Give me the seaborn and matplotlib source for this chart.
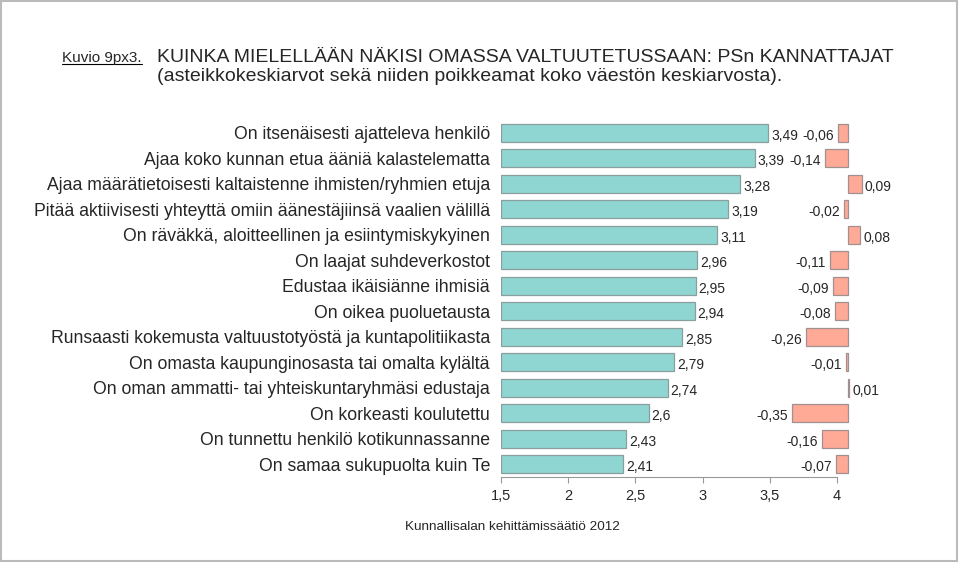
import pandas as pd
import matplotlib.pyplot as plt
import matplotlib.patches as mpatches
import seaborn as sns

sns.set_style('white')
plt.rcParams['font.family'] = ['Liberation Sans', 'DejaVu Sans']

# data
categories = [
    'On itsenäisesti ajatteleva henkilö',
    'Ajaa koko kunnan etua ääniä kalastelematta',
    'Ajaa määrätietoisesti kaltaistenne ihmisten/ryhmien etuja',
    'Pitää aktiivisesti yhteyttä omiin äänestäjiinsä vaalien välillä',
    'On räväkkä, aloitteellinen ja esiintymiskykyinen',
    'On laajat suhdeverkostot',
    'Edustaa ikäisiänne ihmisiä',
    'On oikea puoluetausta',
    'Runsaasti kokemusta valtuustotyöstä ja kuntapolitiikasta',
    'On omasta kaupunginosasta tai omalta kylältä',
    'On oman ammatti- tai yhteiskuntaryhmäsi edustaja',
    'On korkeasti koulutettu',
    'On tunnettu henkilö kotikunnassanne',
    'On samaa sukupuolta kuin Te',
]
means = [3.49, 3.39, 3.28, 3.19, 3.11, 2.96, 2.95, 2.94, 2.85, 2.79, 2.74, 2.6, 2.43, 2.41]
deviations = [-0.06, -0.14, 0.09, -0.02, 0.08, -0.11, -0.09, -0.08, -0.26, -0.01, 0.01, -0.35, -0.16, -0.07]
xticks = [1.5, 2, 2.5, 3, 3.5, 4]

df = pd.DataFrame({'cat': categories, 'mean': means, 'dev': deviations})

W, H = 960, 563
fig = plt.figure(figsize=(W / 100, H / 100), dpi=100)

# pääakseli
ax = fig.add_axes([501 / W, 1 - 477 / H, 336 / W, 357 / H])
sns.barplot(data=df, x='mean', y='cat', order=categories, color='#8FD6D2', saturation=1,
            width=0.72, edgecolor='#8a9e9e', linewidth=0.9, ax=ax)
ax.set_xlim(1.5, 4)
x0 = ax.get_xlim()[0]
for p in ax.patches:
    w = p.get_x() + p.get_width()
    p.set_x(x0)
    p.set_width(w - x0)
for i, v in enumerate(means):
    ax.annotate(f'{v:g}'.replace('.', ','), (v, i), xytext=(2, -2), textcoords='offset points',
                ha='left', va='center', fontsize=10)

ax.set_xticks(xticks)
ax.set_xticklabels([f'{t:g}'.replace('.', ',') for t in xticks], fontsize=10.5)
ax.set_xlabel('')
ax.set_ylabel('')
ax.tick_params(axis='y', length=0, pad=8, labelsize=12.7)
ax.tick_params(axis='x', length=4, width=0.8, color='#999999', direction='out', pad=5, bottom=True)
for s in ['top', 'right', 'left']:
    ax.spines[s].set_visible(False)
ax.spines['bottom'].set_color('#999999')
ax.spines['bottom'].set_linewidth(0.8)

# poikkeamat
ax2 = fig.add_axes([760 / W, 1 - 477 / H, 120 / W, 357 / H])
sns.barplot(data=df, x='dev', y='cat', order=categories, color='#FFAA96', saturation=1,
            width=0.72, edgecolor='#a09090', linewidth=0.9, ax=ax2)
ax2.set_xlim(-0.548, 0.202)
ax2.set_ylim(ax.get_ylim())
ax2.axis('off')
ax2.patch.set_alpha(0)
for i, d in enumerate(deviations):
    lab = f'{d:.2f}'.replace('.', ',')
    if d < 0:
        ax2.annotate(lab, (d, i), xytext=(-3, -2), textcoords='offset points',
                     ha='right', va='center', fontsize=10)
    else:
        ax2.annotate(lab, (d, i), xytext=(2, -2.5), textcoords='offset points',
                     ha='left', va='center', fontsize=10)

# otsikot
k = fig.text(62 / W, 1 - 58 / H, 'Kuvio 9px3.', fontsize=11, va='center', ha='left')
fig.text(157 / W, 1 - 57 / H, 'KUINKA MIELELLÄÄN NÄKISI OMASSA VALTUUTETUSSAAN: PSn KANNATTAJAT',
         fontsize=14, va='center', ha='left')
fig.text(157 / W, 1 - 77 / H, '(asteikkokeskiarvot sekä niiden poikkeamat koko väestön keskiarvosta).',
         fontsize=14, va='center', ha='left')
fig.text(405 / W, 1 - 527 / H, 'Kunnallisalan kehittämissäätiö 2012', fontsize=9.7, va='center', ha='left')

# alleviivaus
fig.canvas.draw()
bb = k.get_window_extent().transformed(fig.transFigure.inverted())
fig.add_artist(plt.Line2D([bb.x0, bb.x1], [bb.y0 + 0.002, bb.y0 + 0.002], color='black', lw=0.8))

# kehys
fig.add_artist(mpatches.Rectangle((1 / W, 1 - 561 / H), 956 / W, 560 / H, fill=False,
                                  edgecolor='#bbbbbb', lw=1.5, transform=fig.transFigure))

fig.savefig('out.png', dpi=100)
